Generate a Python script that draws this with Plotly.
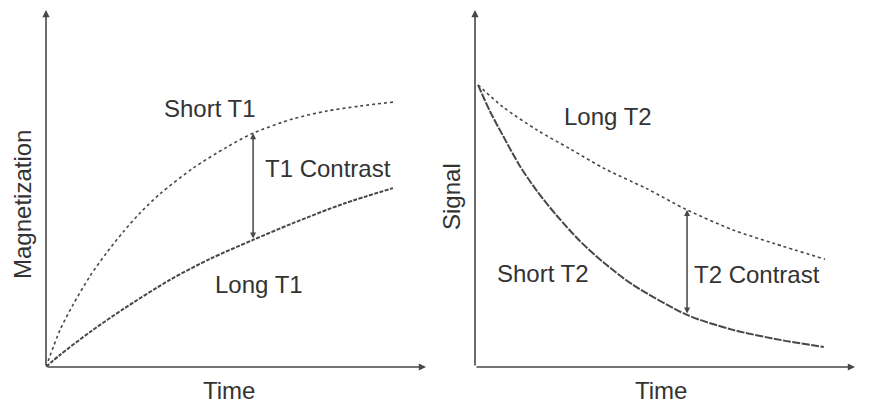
import plotly.graph_objects as go

# ---- data (time in arbitrary units 0..10, value 0..10) ----
short_t1_time = [0, 0.37, 0.71, 1.16, 1.61, 2.03, 2.47, 3.0, 3.87, 4.76, 5.45, 6.5, 7.39, 8.26, 9.13]
short_t1_mag = [0, 1.04, 1.74, 2.55, 3.22, 3.78, 4.31, 4.85, 5.57, 6.16, 6.55, 6.95, 7.17, 7.31, 7.42]

long_t1_time = [0, 0.37, 1.16, 2.03, 3.26, 4.32, 5.45, 6.5, 7.82, 9.13]
long_t1_mag = [0, 0.34, 0.98, 1.62, 2.44, 3.03, 3.56, 4.03, 4.57, 5.01]

long_t2_time = [0.08, 0.74, 1.63, 2.5, 3.42, 4.53, 5.58, 6.79, 7.84, 9.21]
long_t2_sig = [7.90, 7.28, 6.64, 6.11, 5.55, 4.99, 4.40, 3.84, 3.47, 3.02]

short_t2_time = [0.08, 0.39, 0.74, 1.18, 1.63, 2.16, 2.76, 3.37, 4.16, 5.58, 6.79, 8.03, 9.18]
short_t2_sig = [7.90, 7.17, 6.47, 5.63, 4.93, 4.23, 3.53, 2.94, 2.30, 1.46, 1.04, 0.76, 0.56]

t1_contrast = {"time": 5.45, "top": 6.55, "bottom": 3.56}
t2_contrast = {"time": 5.58, "top": 4.40, "bottom": 1.46}

W, H = 876, 412
OFF = 8  # page offset of the plot div
LINE = "#474747"
TEXT = "#333333"
FONT = "Liberation Sans, Arial, sans-serif"

def px(x):
    return (x - OFF) / W

def py(y):
    return 1 - (y - OFF) / H

fig = go.Figure()
fig.add_trace(go.Scatter(x=short_t1_time, y=short_t1_mag, mode="lines", line_shape="spline",
                         line=dict(color=LINE, width=1.6, dash="dot", smoothing=0.8), xaxis="x", yaxis="y"))
fig.add_trace(go.Scatter(x=long_t1_time, y=long_t1_mag, mode="lines", line_shape="spline",
                         line=dict(color=LINE, width=2, dash="4px,1.5px", smoothing=0.8), xaxis="x", yaxis="y"))
fig.add_trace(go.Scatter(x=long_t2_time, y=long_t2_sig, mode="lines", line_shape="spline",
                         line=dict(color=LINE, width=1.6, dash="dot", smoothing=0.8), xaxis="x2", yaxis="y2"))
fig.add_trace(go.Scatter(x=short_t2_time, y=short_t2_sig, mode="lines", line_shape="spline",
                         line=dict(color=LINE, width=2, dash="8px,1.5px", smoothing=0.8), xaxis="x2", yaxis="y2"))

ydom = [py(367), py(10)]
ax_common = dict(range=[0, 10], showgrid=False, zeroline=False, showline=False,
                 showticklabels=False, ticks="", fixedrange=True)
fig.update_layout(
    width=W, height=H, autosize=False,
    margin=dict(l=0, r=0, t=0, b=0),
    paper_bgcolor="white", plot_bgcolor="white",
    showlegend=False,
    xaxis=dict(domain=[px(46), px(426)], anchor="y", **ax_common),
    yaxis=dict(domain=ydom, anchor="x", **ax_common),
    xaxis2=dict(domain=[px(475), px(855)], anchor="y2", **ax_common),
    yaxis2=dict(domain=ydom, anchor="x2", **ax_common),
)

anns = []
# axis arrows
for xr, yr in [("x", "y"), ("x2", "y2")]:
    anns.append(dict(x=10, y=0, ax=0, ay=0, xref=xr, yref=yr, axref=xr, ayref=yr,
                     showarrow=True, arrowhead=2, arrowsize=0.9, arrowwidth=1.6,
                     arrowcolor=LINE, text=""))
    anns.append(dict(x=0, y=10, ax=0, ay=0, xref=xr, yref=yr, axref=xr, ayref=yr,
                     showarrow=True, arrowhead=2, arrowsize=0.9, arrowwidth=1.6,
                     arrowcolor=LINE, text=""))
# contrast arrows
for xr, yr, c in [("x", "y", t1_contrast), ("x2", "y2", t2_contrast)]:
    anns.append(dict(x=c["time"], y=c["top"], ax=c["time"], ay=c["bottom"], xref=xr, yref=yr,
                     axref=xr, ayref=yr, showarrow=True, arrowhead=2, arrowside="end+start",
                     arrowsize=0.8, arrowwidth=1.5, arrowcolor=LINE, text=""))

fnt = dict(family=FONT, size=24, color=TEXT)
def label(text, x, y, xr, yr, xanchor="center", angle=0):
    anns.append(dict(text=text, x=x, y=y, xref=xr, yref=yr, showarrow=False,
                     xanchor=xanchor, yanchor="middle", textangle=angle, font=fnt))

label("Short T1", 4.32, 7.25, "x", "y")
label("T1 Contrast", 5.72, 5.55, "x", "y", xanchor="left")
label("Long T1", 5.6, 2.32, "x", "y")
label("Long T2", 3.5, 7.03, "x2", "y2")
label("Short T2", 1.79, 2.63, "x2", "y2")
label("T2 Contrast", 5.7, 2.58, "x2", "y2", xanchor="left")
# axis titles
label("Time", px(229), py(390), "paper", "paper")
label("Time", px(661), py(390), "paper", "paper")
label("Magnetization", px(22), py(205), "paper", "paper", angle=-90)
label("Signal", px(451), py(197), "paper", "paper", angle=-90)

fig.update_layout(annotations=anns)
fig.write_html("out.html")
